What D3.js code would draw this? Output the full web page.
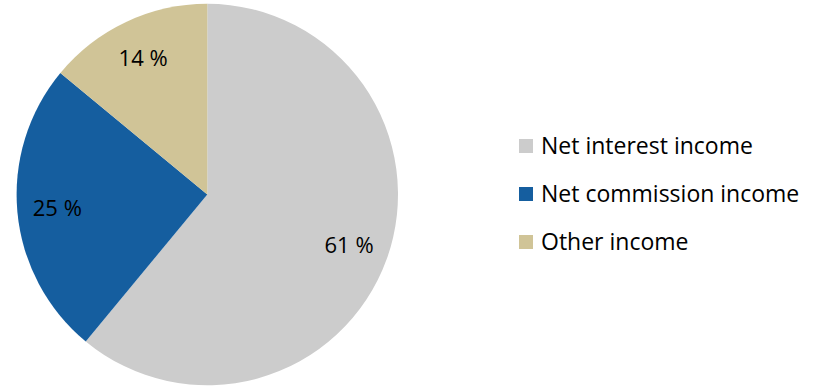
<!DOCTYPE html>
<html>
<head>
<meta charset="utf-8">
<script src="https://cdn.jsdelivr.net/npm/d3@7"></script>
<style>
  html, body { margin: 0; padding: 0; background: #ffffff; }
  svg text { font-family: "Open Sans", Lato, sans-serif; fill: #000; }
</style>
</head>
<body>
<svg id="chart" width="815" height="387"></svg>
<script>
// Income breakdown (share of total, %)
const categories = ["Net interest income", "Net commission income", "Other income"];
const values = [61, 25, 14];
const colors = ["#cccccc", "#155e9f", "#d0c497"];

const svg = d3.select("#chart");
const cx = 207.3, cy = 194.5, radius = 190.7;
const fontSize = 23;

const pie = d3.pie().sort(null).value(d => d.value);
const arcs = pie(categories.map((c, i) => ({ name: c, value: values[i], color: colors[i] })));

const arc = d3.arc().innerRadius(0).outerRadius(radius);
const labelArc = d3.arc().innerRadius(radius * 0.79).outerRadius(radius * 0.79);

const g = svg.append("g").attr("transform", `translate(${cx},${cy})`);

g.selectAll("path.slice")
  .data(arcs)
  .join("path")
  .attr("class", "slice")
  .attr("d", arc)
  .attr("fill", d => d.data.color);

g.selectAll("text.pct")
  .data(arcs)
  .join("text")
  .attr("class", "pct")
  .attr("transform", d => `translate(${labelArc.centroid(d)})`)
  .attr("text-anchor", "middle")
  .attr("dy", "0.35em")
  .style("font-size", "22px")
  .text(d => d.data.value + " %");

// Legend
const legend = svg.append("g").attr("transform", "translate(519,139)");
const rows = legend.selectAll("g.row")
  .data(arcs)
  .join("g")
  .attr("class", "row")
  .attr("transform", (d, i) => `translate(0,${i * 48})`);

rows.append("rect")
  .attr("width", 14)
  .attr("height", 14)
  .attr("fill", d => d.data.color);

rows.append("text")
  .attr("x", 22)
  .attr("y", 14.5)
  .style("font-size", fontSize + "px")
  .text(d => d.data.name);
</script>
</body>
</html>
